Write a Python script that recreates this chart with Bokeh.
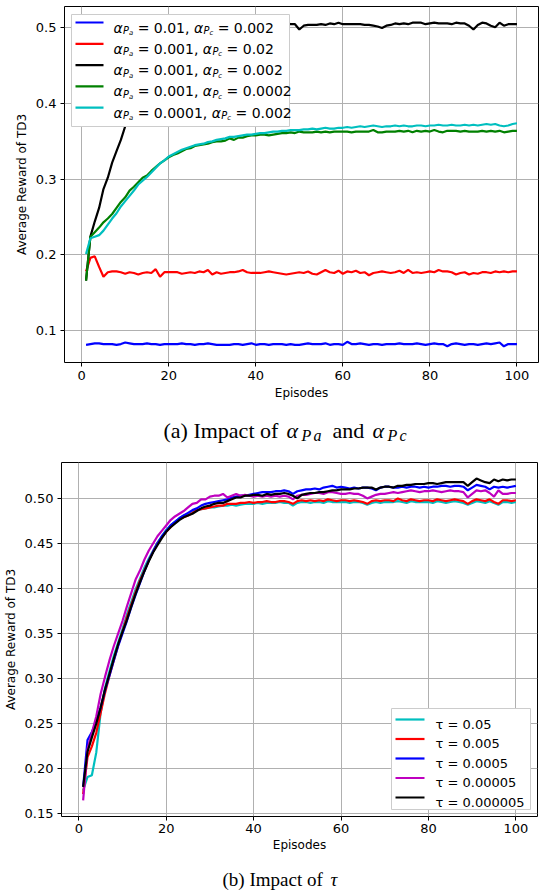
from bokeh.plotting import figure
from bokeh.models import Range1d, FixedTicker, PrintfTickFormatter, ColumnDataSource
from bokeh.layouts import column, row
from bokeh.embed import file_html
from bokeh.resources import INLINE
from bokeh.core.properties import value

# ---------------- data ----------------
episodes = list(range(1, 101))
x_ticks = [0, 20, 40, 60, 80, 100]

# (a) impact of alpha_Pa and alpha_Pc
a_pa = ["0.01", "0.001", "0.001", "0.001", "0.0001"]
a_pc = ["0.002", "0.02", "0.002", "0.0002", "0.002"]
a_colors = ["#0000ff", "#ff0000", "#000000", "#008000", "#00bfbf"]
a_ticks = [0.1, 0.2, 0.3, 0.4, 0.5]

a_blue = [0.081, 0.082, 0.083, 0.083, 0.082, 0.082, 0.082, 0.081, 0.082, 0.084,
          0.083, 0.082, 0.082, 0.082, 0.083, 0.082, 0.082, 0.081, 0.082, 0.082,
          0.082, 0.082, 0.083, 0.082, 0.082, 0.081, 0.082, 0.082, 0.083, 0.082,
          0.081, 0.081, 0.081, 0.081, 0.082, 0.082, 0.081, 0.082, 0.083, 0.081,
          0.082, 0.082, 0.081, 0.082, 0.082, 0.082, 0.081, 0.082, 0.081, 0.081,
          0.082, 0.083, 0.082, 0.082, 0.082, 0.083, 0.081, 0.082, 0.082, 0.081,
          0.085, 0.082, 0.082, 0.083, 0.082, 0.081, 0.082, 0.082, 0.081, 0.082,
          0.082, 0.082, 0.083, 0.082, 0.082, 0.082, 0.083, 0.082, 0.081, 0.082,
          0.083, 0.082, 0.082, 0.079, 0.082, 0.083, 0.082, 0.081, 0.082, 0.082,
          0.081, 0.082, 0.083, 0.082, 0.083, 0.084, 0.079, 0.082, 0.082, 0.082]
a_red = [0.178, 0.196, 0.198, 0.184, 0.171, 0.177, 0.178, 0.178, 0.177, 0.175,
         0.177, 0.176, 0.174, 0.176, 0.177, 0.176, 0.181, 0.171, 0.177, 0.177,
         0.177, 0.177, 0.175, 0.176, 0.177, 0.176, 0.178, 0.177, 0.180, 0.174,
         0.177, 0.175, 0.176, 0.177, 0.177, 0.178, 0.180, 0.177, 0.176, 0.176,
         0.176, 0.177, 0.178, 0.177, 0.176, 0.175, 0.174, 0.175, 0.176, 0.177,
         0.176, 0.178, 0.175, 0.174, 0.177, 0.180, 0.177, 0.176, 0.179, 0.175,
         0.178, 0.177, 0.179, 0.176, 0.177, 0.173, 0.176, 0.177, 0.178, 0.177,
         0.176, 0.177, 0.179, 0.176, 0.180, 0.176, 0.177, 0.176, 0.177, 0.178,
         0.177, 0.180, 0.178, 0.178, 0.177, 0.174, 0.176, 0.177, 0.174, 0.176,
         0.175, 0.177, 0.177, 0.176, 0.178, 0.177, 0.178, 0.177, 0.178, 0.178]
a_black = [0.166, 0.224, 0.244, 0.262, 0.287, 0.302, 0.322, 0.337, 0.352, 0.370,
           0.385, 0.400, 0.414, 0.427, 0.438, 0.448, 0.457, 0.465, 0.471, 0.477,
           0.482, 0.486, 0.489, 0.492, 0.494, 0.496, 0.498, 0.499, 0.500, 0.501,
           0.502, 0.502, 0.503, 0.503, 0.503, 0.504, 0.504, 0.504, 0.505, 0.504,
           0.505, 0.505, 0.504, 0.505, 0.505, 0.505, 0.506, 0.505, 0.505, 0.498,
           0.503, 0.504, 0.504, 0.504, 0.505, 0.504, 0.506, 0.505, 0.507, 0.505,
           0.505, 0.505, 0.505, 0.505, 0.504, 0.504, 0.503, 0.502, 0.500, 0.503,
           0.504, 0.506, 0.505, 0.506, 0.505, 0.507, 0.507, 0.507, 0.505, 0.506,
           0.507, 0.506, 0.506, 0.506, 0.505, 0.507, 0.506, 0.506, 0.503, 0.498,
           0.504, 0.507, 0.506, 0.503, 0.501, 0.507, 0.503, 0.505, 0.505, 0.505]
a_green = [0.166, 0.224, 0.230, 0.236, 0.243, 0.248, 0.254, 0.262, 0.270, 0.276,
           0.285, 0.290, 0.296, 0.302, 0.305, 0.311, 0.316, 0.321, 0.325, 0.329,
           0.332, 0.334, 0.337, 0.340, 0.341, 0.344, 0.345, 0.346, 0.347, 0.349,
           0.350, 0.350, 0.351, 0.354, 0.352, 0.355, 0.355, 0.357, 0.358, 0.358,
           0.359, 0.359, 0.358, 0.359, 0.360, 0.361, 0.361, 0.362, 0.361, 0.363,
           0.362, 0.362, 0.362, 0.363, 0.362, 0.363, 0.362, 0.363, 0.363, 0.363,
           0.363, 0.362, 0.363, 0.363, 0.363, 0.363, 0.365, 0.362, 0.362, 0.363,
           0.363, 0.363, 0.364, 0.363, 0.364, 0.362, 0.364, 0.363, 0.364, 0.363,
           0.365, 0.363, 0.362, 0.364, 0.364, 0.364, 0.363, 0.364, 0.363, 0.363,
           0.363, 0.364, 0.363, 0.364, 0.363, 0.364, 0.362, 0.363, 0.364, 0.364]
a_cyan = [0.201, 0.222, 0.224, 0.226, 0.232, 0.240, 0.248, 0.255, 0.264, 0.271,
          0.278, 0.285, 0.293, 0.298, 0.303, 0.309, 0.315, 0.321, 0.325, 0.330,
          0.333, 0.336, 0.339, 0.341, 0.343, 0.345, 0.346, 0.347, 0.349, 0.350,
          0.352, 0.353, 0.354, 0.356, 0.356, 0.357, 0.358, 0.359, 0.359, 0.360,
          0.361, 0.361, 0.362, 0.363, 0.363, 0.364, 0.364, 0.365, 0.365, 0.365,
          0.366, 0.366, 0.367, 0.366, 0.367, 0.368, 0.367, 0.367, 0.368, 0.368,
          0.369, 0.368, 0.369, 0.370, 0.369, 0.370, 0.371, 0.370, 0.369, 0.370,
          0.370, 0.371, 0.370, 0.371, 0.370, 0.370, 0.371, 0.371, 0.370, 0.371,
          0.371, 0.372, 0.371, 0.371, 0.372, 0.371, 0.371, 0.372, 0.371, 0.372,
          0.371, 0.372, 0.373, 0.372, 0.373, 0.371, 0.370, 0.371, 0.373, 0.374]
a_series = [a_blue, a_red, a_black, a_green, a_cyan]

# (b) impact of tau
b_tau = ["0.05", "0.005", "0.0005", "0.00005", "0.000005"]
b_colors = ["#00bfbf", "#ff0000", "#0000ff", "#bf00bf", "#000000"]
b_ticks = [0.15, 0.20, 0.25, 0.30, 0.35, 0.40, 0.45, 0.50]

b_cyan = [0.176, 0.191, 0.193, 0.218, 0.262, 0.290, 0.308, 0.325, 0.340, 0.355,
          0.371, 0.385, 0.399, 0.411, 0.423, 0.433, 0.442, 0.451, 0.458, 0.465,
          0.470, 0.474, 0.478, 0.481, 0.483, 0.485, 0.487, 0.488, 0.489, 0.490,
          0.490, 0.491, 0.492, 0.492, 0.493, 0.492, 0.493, 0.494, 0.494, 0.494,
          0.495, 0.494, 0.495, 0.495, 0.495, 0.496, 0.495, 0.495, 0.492, 0.495,
          0.496, 0.496, 0.495, 0.496, 0.496, 0.495, 0.497, 0.496, 0.496, 0.496,
          0.496, 0.495, 0.496, 0.496, 0.495, 0.493, 0.495, 0.496, 0.495, 0.496,
          0.496, 0.496, 0.497, 0.496, 0.495, 0.497, 0.496, 0.496, 0.496, 0.496,
          0.495, 0.497, 0.496, 0.495, 0.496, 0.497, 0.496, 0.495, 0.493, 0.495,
          0.497, 0.496, 0.495, 0.497, 0.495, 0.493, 0.496, 0.496, 0.495, 0.496]
b_red = [0.172, 0.213, 0.225, 0.240, 0.262, 0.284, 0.303, 0.320, 0.337, 0.352,
         0.368, 0.382, 0.396, 0.409, 0.420, 0.431, 0.441, 0.450, 0.457, 0.463,
         0.468, 0.473, 0.477, 0.479, 0.481, 0.484, 0.487, 0.488, 0.489, 0.490,
         0.491, 0.492, 0.492, 0.494, 0.494, 0.494, 0.495, 0.495, 0.496, 0.495,
         0.496, 0.496, 0.497, 0.496, 0.496, 0.497, 0.497, 0.496, 0.494, 0.497,
         0.498, 0.497, 0.498, 0.497, 0.498, 0.497, 0.499, 0.498, 0.497, 0.498,
         0.498, 0.497, 0.498, 0.497, 0.496, 0.494, 0.497, 0.498, 0.497, 0.498,
         0.498, 0.497, 0.500, 0.498, 0.497, 0.499, 0.498, 0.497, 0.498, 0.498,
         0.497, 0.499, 0.498, 0.497, 0.498, 0.499, 0.498, 0.497, 0.494, 0.497,
         0.499, 0.498, 0.497, 0.499, 0.496, 0.494, 0.498, 0.498, 0.497, 0.498]
b_blue = [0.180, 0.232, 0.241, 0.252, 0.268, 0.287, 0.303, 0.320, 0.336, 0.350,
          0.364, 0.379, 0.393, 0.406, 0.419, 0.431, 0.441, 0.450, 0.458, 0.464,
          0.470, 0.474, 0.478, 0.481, 0.484, 0.487, 0.489, 0.492, 0.494, 0.495,
          0.496, 0.497, 0.498, 0.499, 0.501, 0.502, 0.503, 0.503, 0.504, 0.505,
          0.506, 0.507, 0.507, 0.507, 0.508, 0.508, 0.509, 0.508, 0.505, 0.508,
          0.509, 0.510, 0.510, 0.511, 0.510, 0.512, 0.513, 0.514, 0.512, 0.513,
          0.512, 0.511, 0.512, 0.511, 0.512, 0.512, 0.511, 0.509, 0.512, 0.513,
          0.513, 0.512, 0.512, 0.513, 0.512, 0.513, 0.513, 0.512, 0.513, 0.512,
          0.513, 0.513, 0.514, 0.514, 0.513, 0.514, 0.514, 0.513, 0.509, 0.512,
          0.515, 0.514, 0.513, 0.510, 0.513, 0.512, 0.513, 0.512, 0.513, 0.514]
b_magenta = [0.165, 0.222, 0.240, 0.258, 0.283, 0.302, 0.320, 0.336, 0.350, 0.364,
             0.380, 0.395, 0.410, 0.420, 0.432, 0.442, 0.450, 0.458, 0.464, 0.470,
             0.476, 0.480, 0.483, 0.486, 0.490, 0.494, 0.495, 0.499, 0.499, 0.502,
             0.503, 0.503, 0.505, 0.501, 0.503, 0.505, 0.503, 0.504, 0.503, 0.502,
             0.503, 0.502, 0.503, 0.502, 0.503, 0.502, 0.503, 0.502, 0.499, 0.503,
             0.504, 0.504, 0.505, 0.506, 0.506, 0.505, 0.507, 0.507, 0.506, 0.505,
             0.505, 0.506, 0.505, 0.505, 0.503, 0.500, 0.502, 0.504, 0.505, 0.505,
             0.506, 0.507, 0.506, 0.507, 0.508, 0.509, 0.508, 0.507, 0.508, 0.508,
             0.509, 0.508, 0.507, 0.508, 0.509, 0.508, 0.508, 0.507, 0.501, 0.505,
             0.509, 0.508, 0.509, 0.506, 0.502, 0.509, 0.505, 0.505, 0.506, 0.506]
b_black = [0.180, 0.219, 0.235, 0.250, 0.268, 0.288, 0.305, 0.322, 0.338, 0.352,
           0.365, 0.380, 0.394, 0.407, 0.419, 0.430, 0.440, 0.448, 0.456, 0.463,
           0.468, 0.472, 0.476, 0.479, 0.481, 0.483, 0.486, 0.489, 0.491, 0.492,
           0.494, 0.495, 0.495, 0.497, 0.499, 0.501, 0.501, 0.503, 0.503, 0.504,
           0.504, 0.503, 0.505, 0.504, 0.505, 0.505, 0.506, 0.505, 0.503, 0.500,
           0.504, 0.505, 0.506, 0.506, 0.507, 0.507, 0.508, 0.509, 0.509, 0.510,
           0.510, 0.510, 0.511, 0.511, 0.512, 0.512, 0.512, 0.510, 0.512, 0.513,
           0.513, 0.512, 0.514, 0.514, 0.515, 0.515, 0.516, 0.516, 0.516, 0.517,
           0.517, 0.516, 0.517, 0.518, 0.518, 0.518, 0.518, 0.518, 0.514, 0.518,
           0.522, 0.520, 0.518, 0.517, 0.521, 0.519, 0.521, 0.520, 0.521, 0.521]
b_series = [b_cyan, b_red, b_blue, b_magenta, b_black]

# ---------------- helpers ----------------
FIG_W = 541
SANS = "DejaVu Sans"
SERIF = "Liberation Serif"

DV = {' ': 0.318, ',': 0.318, '.': 0.318, '=': 0.838, 'α': 0.65, 'τ': 0.56,
      'P': 0.603, 'a': 0.613, 'c': 0.55}


def tw(s, size, table, default=0.636):
    return sum(table.get(ch, default) for ch in s) * size


def make_fig(series, colors, yticks, yfmt, fw, fh, bl, br, bt, bb, xstand=(4, 3)):
    allv = [v for s in series for v in s]
    lo, hi = min(allv), max(allv)
    ypad = 0.05 * (hi - lo)
    xpad = 0.05 * (max(episodes) - min(episodes))
    p = figure(frame_width=fw, frame_height=fh, title=None,
               x_range=Range1d(min(episodes) - xpad, max(episodes) + xpad),
               y_range=Range1d(lo - ypad, hi + ypad),
               output_backend="svg", toolbar_location=None,
               min_border_left=bl, min_border_right=br,
               min_border_top=bt, min_border_bottom=bb)
    p.background_fill_color = "white"
    p.border_fill_color = "white"
    p.outline_line_color = "black"
    p.outline_line_width = 1
    p.outline_line_alpha = 1
    p.xaxis.ticker = FixedTicker(ticks=x_ticks)
    p.yaxis.ticker = FixedTicker(ticks=yticks)
    p.yaxis.formatter = PrintfTickFormatter(format=yfmt)
    for ax in (p.xaxis, p.yaxis):
        ax.axis_line_color = None
        ax.minor_tick_line_color = None
        ax.major_tick_out = 4
        ax.major_tick_in = 0
        ax.major_tick_line_color = "black"
        ax.major_label_text_font = SANS
        ax.major_label_text_font_size = "13px"
        ax.major_label_text_color = "black"
        ax.axis_label_text_font = SANS
        ax.axis_label_text_font_size = "12px"
        ax.axis_label_text_font_style = "normal"
        ax.axis_label_text_color = "black"
    p.xaxis.major_label_standoff = xstand[0]
    p.xaxis.axis_label_standoff = xstand[1]
    p.yaxis.major_label_standoff = 4
    p.yaxis.axis_label_standoff = 4
    p.xaxis.axis_label = "Episodes"
    p.yaxis.axis_label = "Average Reward of TD3"
    p.grid.grid_line_color = "#b0b0b0"
    p.grid.grid_line_width = 1
    for s, c in zip(series, colors):
        p.line(episodes, s, line_color=c, line_width=2.2)
    return p


def to_data(p, fw, fh, px, py):
    xs, xe = p.x_range.start, p.x_range.end
    ys, ye = p.y_range.start, p.y_range.end
    return xs + px / fw * (xe - xs), ye - py / fh * (ye - ys)


def draw_legend(p, fw, fh, box, rows_y, sample_x, colors, pieces_rows):
    l, t = to_data(p, fw, fh, box[0], box[1])
    r, b = to_data(p, fw, fh, box[2], box[3])
    p.quad(left=[l], right=[r], top=[t], bottom=[b], fill_color="white",
           fill_alpha=1.0, line_color="#cccccc", line_width=1)
    x0s, y0s, x1s, y1s = [], [], [], []
    for ry in rows_y:
        xa, ya = to_data(p, fw, fh, sample_x[0], ry)
        xb, _ = to_data(p, fw, fh, sample_x[1], ry)
        x0s.append(xa); y0s.append(ya); x1s.append(xb); y1s.append(ya)
    p.segment(x0=x0s, y0=y0s, x1=x1s, y1=y1s, line_color=colors, line_width=2.2)
    d = dict(x=[], y=[], t=[], fs=[], st=[])
    for rw in pieces_rows:
        for (txt, px, py, size, style) in rw:
            xx, yy = to_data(p, fw, fh, px, py)
            d["x"].append(xx); d["y"].append(yy); d["t"].append(txt)
            d["fs"].append("%.1fpx" % size); d["st"].append(style)
    p.text(x="x", y="y", text="t", text_font_size="fs", text_font_style="st",
           source=ColumnDataSource(d), text_font=value(SANS),
           text_baseline="alphabetic", text_align="left", text_color="black")


# ---------------- figure (a) ----------------
FA_W, FA_H = 474, 356
pa = make_fig(a_series, a_colors, a_ticks, "%.1f", FA_W, FA_H, 64, 3, 6, 40)

fs = 14.0
fs1 = fs * 0.7
fs2 = fs1 * 0.7
a_rows_y = [16 + i * 21.3 for i in range(5)]
a_pieces = []
for i, ry in enumerate(a_rows_y):
    base = ry + 5
    x = 49
    rw = []
    for k, (sub, val) in enumerate([("a", a_pa[i]), ("c", a_pc[i])]):
        rw.append(("α", x, base, fs, "italic")); x += DV['α'] * fs + 0.5
        rw.append(("P", x, base + 3, fs1, "italic")); x += DV['P'] * fs1
        rw.append((sub, x, base + 5.5, fs2, "italic")); x += DV[sub] * fs2
        x += DV[' '] * fs
        txt = "= " + val + ("," if k == 0 else "")
        rw.append((txt, x, base, fs, "normal"))
        x += tw(txt, fs, DV) + DV[' '] * fs
    a_pieces.append(rw)
draw_legend(pa, FA_W, FA_H, (7, 8, 225, 120), a_rows_y, (11, 39), a_colors, a_pieces)

# ---------------- figure (b) ----------------
FB_W, FB_H = 476, 354
pb = make_fig(b_series, b_colors, b_ticks, "%.2f", FB_W, FB_H, 59, 6, 6, 40, xstand=(3, 2))
b_rows_y = [257 + i * 19.5 for i in range(5)]
b_pieces = [[("τ = " + v, 374, ry + 4.7, 13.0, "normal")] for v, ry in zip(b_tau, b_rows_y)]
draw_legend(pb, FB_W, FB_H, (330, 246, 469, 347), b_rows_y, (334, 363), b_colors, b_pieces)


# ---------------- captions ----------------
def make_caption(pieces, h):
    c = figure(frame_width=FIG_W, frame_height=h, title=None,
               x_range=Range1d(0, FIG_W), y_range=Range1d(0, h),
               output_backend="svg", toolbar_location=None,
               min_border=0, min_border_left=0, min_border_right=0,
               min_border_top=0, min_border_bottom=0,
               x_axis_location=None, y_axis_location=None)
    c.grid.visible = False
    c.outline_line_color = None
    c.background_fill_color = "white"
    c.border_fill_color = "white"
    d = dict(x=[], y=[], t=[], fs=[], st=[])
    for (txt, px, py, size, style) in pieces:
        d["x"].append(px); d["y"].append(h - py); d["t"].append(txt)
        d["fs"].append("%.1fpx" % size); d["st"].append(style)
    c.text(x="x", y="y", text="t", text_font_size="fs", text_font_style="st",
           source=ColumnDataSource(d), text_font=value(SERIF),
           text_baseline="alphabetic", text_align="left", text_color="black")
    return c


cf = 22.0   # caption font
cs = 16.0   # subscript font
CAPA_H = 54
capA_base = 28
caption_a = [("(a) Impact of", 163, capA_base, cf, "normal"),
             ("α", 286, capA_base, cf, "italic"),
             ("P", 301, capA_base + 5, cs, "italic"),
             ("a", 313, capA_base + 5, cs, "italic"),
             ("and", 332, capA_base, cf, "normal"),
             ("α", 372, capA_base, cf, "italic"),
             ("P", 387, capA_base + 5, cs, "italic"),
             ("c", 399, capA_base + 5, cs, "italic")]
CAPB_H = 34
capB_base = 23
cfb = 19.0
caption_b = [("(b) Impact of", 222, capB_base, cfb, "normal"),
             ("τ", 330, capB_base, cfb, "italic")]

capA = make_caption(caption_a, CAPA_H)
capB = make_caption(caption_b, CAPB_H)

layout = column(row(pa), row(capA), row(pb), row(capB), spacing=0)
open("out.html", "w").write(file_html(layout, INLINE))
